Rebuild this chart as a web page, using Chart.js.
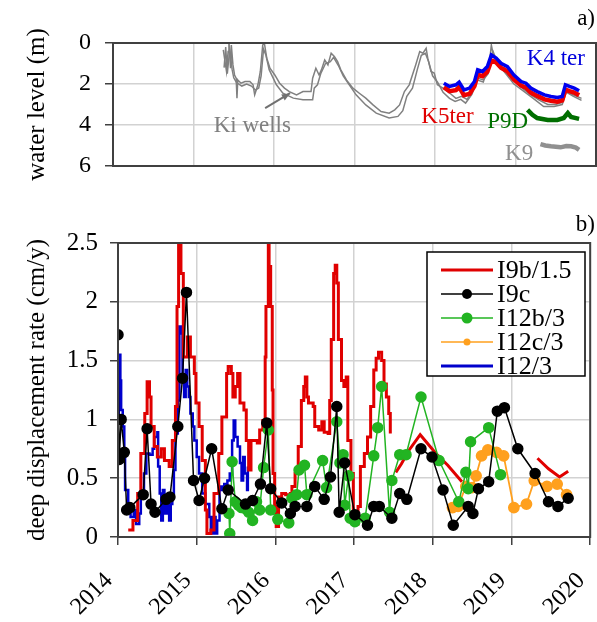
<!DOCTYPE html>
<html>
<head>
<meta charset="utf-8">
<script src="https://cdn.jsdelivr.net/npm/chart.js@4"></script>
<style>
  body { margin: 0; background: #fff; }
  #top { position: absolute; left: 0; top: 0; width: 597px; height: 200px; }
  #bot { position: absolute; left: 0; top: 200px; width: 597px; height: 422px; }
</style>
</head>
<body>
<div id="top"><canvas id="wl"></canvas></div>
<div id="bot"><canvas id="dd"></canvas></div>
<script>
// ---- panel a) water level (m), [year, depth] ----
const kiWellA = [[2015.37,0.34],[2015.41,1.39],[2015.43,0.42],[2015.44,0.0],[2015.46,1.23],[2015.47,0.1],[2015.49,1.07],[2015.51,1.56],[2015.53,1.72],[2015.54,2.69],[2015.55,1.80],[2015.59,1.96],[2015.64,1.88],[2015.70,1.88],[2015.74,2.04],[2015.76,2.53],[2015.80,2.04],[2015.83,1.39],[2015.86,0.10],[2015.88,0.0],[2015.91,0.74],[2015.95,1.23],[2016.01,1.56],[2016.07,1.96],[2016.13,2.20],[2016.19,2.37],[2016.28,2.53],[2016.36,2.37],[2016.46,2.37],[2016.48,1.72],[2016.52,1.23],[2016.56,1.56],[2016.59,1.30],[2016.63,0.83],[2016.67,1.07],[2016.71,0.50],[2016.75,0.66],[2016.79,0.91],[2016.83,1.31],[2016.90,1.80],[2016.98,2.20],[2017.06,2.45],[2017.14,2.69],[2017.23,3.02],[2017.33,3.34],[2017.43,3.42],[2017.50,3.26],[2017.56,3.02],[2017.62,2.37],[2017.68,2.04],[2017.76,1.07],[2017.81,0.42],[2017.85,0.5],[2017.89,0.26],[2017.91,0.74],[2017.95,1.39],[2017.99,1.47],[2018.03,2.04],[2018.10,2.2],[2018.20,2.5],[2018.26,2.7],[2018.33,2.6],[2018.40,2.75],[2018.47,2.3],[2018.52,1.7],[2018.60,1.8],[2018.66,1.5],[2018.70,0.1],[2018.73,0.7],[2018.80,1.2],[2018.90,1.5],[2019.00,1.9],[2019.10,2.25],[2019.20,2.55],[2019.30,2.8],[2019.40,3.0],[2019.50,3.0],[2019.58,2.9],[2019.62,2.3],[2019.70,2.5],[2019.82,2.7]];
const kiWellB = [[2015.38,1.2],[2015.40,0.2],[2015.42,1.5],[2015.45,0.3],[2015.48,1.3],[2015.50,1.7],[2015.53,1.9],[2015.56,2.0],[2015.60,2.1],[2015.66,2.0],[2015.72,2.1],[2015.77,2.3],[2015.81,2.2],[2015.84,1.6],[2015.87,0.3],[2015.90,0.6],[2015.94,1.3],[2016.03,2.04],[2016.11,2.45],[2016.24,2.69],[2016.36,2.77],[2016.48,2.77],[2016.50,2.2],[2016.54,2.04],[2016.58,1.5],[2016.64,1.0],[2016.70,0.91],[2016.74,0.7],[2016.80,1.1],[2016.86,1.6],[2016.92,1.96],[2017.02,2.53],[2017.14,3.02],[2017.27,3.42],[2017.43,3.66],[2017.54,3.58],[2017.60,3.3],[2017.65,2.6],[2017.72,2.2],[2017.78,1.3],[2017.83,0.6],[2017.88,0.5],[2017.92,0.9],[2017.97,1.6],[2018.03,1.9],[2018.10,2.4],[2018.18,2.7],[2018.25,2.85],[2018.32,2.75],[2018.38,2.93],[2018.46,2.5],[2018.52,1.8],[2018.60,1.9],[2018.68,0.9],[2018.72,0.4],[2018.78,1.0],[2018.88,1.5],[2018.98,2.0],[2019.10,2.35],[2019.22,2.7],[2019.35,3.1],[2019.48,3.1],[2019.58,3.0],[2019.63,2.4],[2019.72,2.6],[2019.82,2.8]];
const k4ter = [[2018.11,1.96],[2018.18,2.12],[2018.26,2.04],[2018.30,1.91],[2018.36,2.29],[2018.43,2.20],[2018.49,1.88],[2018.53,1.31],[2018.59,1.39],[2018.65,1.15],[2018.70,0.58],[2018.76,0.74],[2018.82,0.99],[2018.90,1.15],[2018.98,1.56],[2019.07,1.88],[2019.13,1.96],[2019.19,2.20],[2019.27,2.37],[2019.36,2.53],[2019.44,2.61],[2019.52,2.66],[2019.58,2.61],[2019.62,2.04],[2019.67,2.12],[2019.73,2.20],[2019.79,2.33]];
const k5ter = [[2018.11,2.15],[2018.18,2.35],[2018.26,2.30],[2018.30,2.15],[2018.36,2.55],[2018.43,2.48],[2018.49,2.10],[2018.53,1.55],[2018.59,1.62],[2018.65,1.40],[2018.70,0.85],[2018.76,0.95],[2018.82,1.20],[2018.90,1.38],[2018.98,1.78],[2019.07,2.08],[2019.13,2.18],[2019.19,2.42],[2019.27,2.58],[2019.36,2.75],[2019.44,2.82],[2019.52,2.86],[2019.58,2.80],[2019.62,2.28],[2019.67,2.35],[2019.73,2.42],[2019.79,2.55]];
const p9d = [[2019.15,3.26],[2019.21,3.50],[2019.27,3.66],[2019.40,3.75],[2019.52,3.75],[2019.60,3.66],[2019.65,3.42],[2019.69,3.61],[2019.79,3.70]];
const k9 = [[2019.31,4.93],[2019.37,5.0],[2019.44,5.04],[2019.56,5.09],[2019.63,5.03],[2019.69,5.04],[2019.75,5.10],[2019.79,5.21]];

// ---- panel b) deep displacement rate (cm/y), [year, rate] ----
const i9b = [[2014.13,0.06],[2014.19,0.14],[2014.25,0.37],[2014.29,0.71],[2014.34,1.05],[2014.37,1.32],[2014.40,1.19],[2014.42,0.94],[2014.46,0.77],[2014.50,0.68],[2014.55,0.75],[2014.59,0.65],[2014.65,0.60],[2014.69,0.82],[2014.73,1.11],[2014.75,1.96],[2014.77,2.55],[2014.80,2.24],[2014.83,1.53],[2014.88,1.70],[2014.92,1.53],[2014.97,1.39],[2014.99,1.14],[2015.03,0.94],[2015.07,0.65],[2015.11,0.23],[2015.13,0.03],[2015.18,0.06],[2015.22,0.37],[2015.28,0.71],[2015.32,1.02],[2015.38,1.39],[2015.40,1.45],[2015.44,1.39],[2015.46,1.19],[2015.49,1.28],[2015.52,1.39],[2015.55,1.14],[2015.60,1.08],[2015.63,0.82],[2015.66,0.57],[2015.69,0.82],[2015.77,0.80],[2015.80,0.91],[2015.84,0.99],[2015.87,1.53],[2015.88,1.96],[2015.91,2.55],[2015.92,2.30],[2015.94,1.96],[2015.96,1.25],[2015.97,0.54],[2015.99,0.26],[2016.01,0.09],[2016.04,0.34],[2016.08,0.37],[2016.13,0.36],[2016.19,0.37],[2016.21,0.43],[2016.25,0.54],[2016.29,0.77],[2016.33,1.16],[2016.36,1.28],[2016.38,1.36],[2016.40,1.19],[2016.42,1.14],[2016.48,1.11],[2016.50,0.94],[2016.55,0.91],[2016.59,0.98],[2016.62,0.89],[2016.67,0.88],[2016.69,1.16],[2016.71,1.68],[2016.74,2.24],[2016.76,2.31],[2016.78,2.16],[2016.80,1.68],[2016.84,1.33],[2016.87,1.28],[2016.90,1.36],[2016.92,0.82],[2016.96,0.54],[2016.99,0.20],[2017.01,0.11],[2017.05,0.26],[2017.08,0.60],[2017.13,0.71],[2017.17,0.85],[2017.21,1.11],[2017.25,1.42],[2017.28,1.52],[2017.31,1.57],[2017.35,1.50],[2017.38,1.30],[2017.41,1.19],[2017.44,1.05],[2017.46,0.88]];
const i9bLate = [[2017.53,0.55],[2017.60,0.62],[2017.70,0.74],[2017.84,0.87],[2018.04,0.71],[2018.19,0.61],[2018.37,0.47],[2018.38,null],[2019.33,0.67],[2019.47,0.58],[2019.61,0.51],[2019.72,0.56]];
const i9c = [[2014.00,1.72],[2014.015,0.66],[2014.04,1.00],[2014.08,0.72],[2014.11,0.23],[2014.15,0.25],[2014.32,0.36],[2014.37,0.92],[2014.42,0.28],[2014.47,0.21],[2014.61,0.32],[2014.66,0.34],[2014.76,0.94],[2014.82,1.35],[2014.87,2.08],[2014.96,0.48],[2015.03,0.31],[2015.10,0.50],[2015.19,0.75],[2015.32,0.24],[2015.40,0.40],[2015.62,0.28],[2015.71,0.31],[2015.81,0.45],[2015.89,0.97],[2015.94,0.41],[2016.08,0.29],[2016.19,0.20],[2016.25,0.26],[2016.40,0.26],[2016.50,0.43],[2016.62,0.32],[2016.70,0.51],[2016.78,1.11],[2016.81,0.21],[2016.88,0.63],[2017.01,0.19],[2017.17,0.10],[2017.25,0.26],[2017.32,0.26],[2017.48,0.16],[2017.58,0.37],[2017.67,0.32],[2017.85,0.75],[2017.99,0.68],[2018.13,0.40],[2018.26,0.10],[2018.45,0.26],[2018.51,0.20],[2018.58,0.41],[2018.71,0.47],[2018.82,1.07],[2018.91,1.10],[2019.08,0.75],[2019.30,0.54],[2019.47,0.30],[2019.59,0.26],[2019.72,0.33]];
const i12b = [[2015.41,0.20],[2015.42,0.03],[2015.45,0.64],[2015.49,0.30],[2015.53,0.27],[2015.57,0.25],[2015.62,0.24],[2015.66,0.21],[2015.71,0.14],[2015.76,0.30],[2015.80,0.23],[2015.85,0.59],[2015.91,0.91],[2015.94,0.23],[2016.03,0.15],[2016.17,0.12],[2016.21,0.33],[2016.27,0.36],[2016.30,0.57],[2016.37,0.61],[2016.40,0.36],[2016.60,0.65],[2016.65,0.42],[2016.78,0.98],[2016.82,0.63],[2016.86,0.70],[2016.88,0.27],[2016.93,0.52],[2016.95,0.16],[2017.01,0.13],[2017.14,0.16],[2017.25,0.69],[2017.30,0.93],[2017.35,1.28],[2017.45,0.21],[2017.48,0.48],[2017.58,0.70],[2017.66,0.70],[2017.85,1.19],[2018.08,0.65],[2018.33,0.30],[2018.42,0.55],[2018.45,0.41],[2018.48,0.81],[2018.71,0.93],[2018.86,0.53]];
const i12c = [[2018.25,0.25],[2018.32,0.26],[2018.42,0.43],[2018.50,0.42],[2018.55,0.52],[2018.62,0.69],[2018.70,0.74],[2018.81,0.72],[2018.90,0.69],[2019.03,0.25],[2019.19,0.28],[2019.29,0.48],[2019.45,0.43],[2019.58,0.45],[2019.70,0.36]];
const i12 = [[2014.00,1.00],[2014.01,1.55],[2014.03,1.33],[2014.04,1.08],[2014.06,0.94],[2014.08,0.71],[2014.09,0.40],[2014.13,0.28],[2014.16,0.17],[2014.20,0.23],[2014.23,0.11],[2014.27,0.20],[2014.29,0.37],[2014.33,0.54],[2014.36,0.71],[2014.40,0.70],[2014.44,0.75],[2014.46,0.85],[2014.50,0.89],[2014.51,0.60],[2014.53,0.37],[2014.55,0.14],[2014.57,0.40],[2014.59,0.20],[2014.62,0.31],[2014.65,0.14],[2014.67,0.28],[2014.69,0.37],[2014.71,0.57],[2014.73,0.88],[2014.76,1.16],[2014.78,1.79],[2014.80,1.73],[2014.82,1.33],[2014.84,1.19],[2014.86,1.42],[2014.88,1.28],[2014.90,1.19],[2014.92,1.05],[2014.95,0.94],[2014.97,0.82],[2015.00,0.68],[2015.03,0.54],[2015.07,0.37],[2015.11,0.28],[2015.16,0.17],[2015.18,0.03],[2015.21,0.17],[2015.24,0.03],[2015.26,0.14],[2015.29,0.43],[2015.32,0.40],[2015.35,0.45],[2015.39,0.48],[2015.42,0.54],[2015.45,0.82],[2015.47,0.99],[2015.49,0.85],[2015.52,0.77],[2015.55,0.63],[2015.57,0.48],[2015.59,0.68],[2015.61,0.54],[2015.64,0.40],[2015.65,0.60]];

const years = [2014, 2015, 2016, 2017, 2018, 2019, 2020];
const legendNames = ['I9b/1.5', 'I9c', 'I12b/3', 'I12c/3', 'I12/3'];

const FONT = "'Liberation Serif', 'Times New Roman', serif";
const GRID = '#d2d2d2';
const AXIS = '#404040';

function pts(arr) { return arr.map(p => ({x: p[0], y: p[1]})); }

const framePlugin = {
  id: 'frame',
  afterDraw(chart) {
    const a = chart.chartArea, ctx = chart.ctx;
    ctx.save();
    ctx.strokeStyle = AXIS;
    ctx.lineWidth = 2;
    ctx.strokeRect(a.left, a.top, a.right - a.left, a.bottom - a.top);
    ctx.restore();
  }
};

// text labels for panel a
const waterLabels = {
  id: 'waterLabels',
  afterDraw(chart) {
    const ctx = chart.ctx, xs = chart.scales.x, ys = chart.scales.y;
    ctx.save();
    ctx.font = '23px ' + FONT;
    ctx.textBaseline = 'alphabetic';
    ctx.textAlign = 'left';
    const put = (t, c, x, y) => { ctx.fillStyle = c; ctx.fillText(t, xs.getPixelForValue(x), ys.getPixelForValue(y)); };
    put('Ki wells', '#808080', 2015.25, 4.36);
    put('K4 ter', '#0000dd', 2019.14, 1.07);
    put('K5ter', '#e00000', 2017.83, 3.91);
    put('P9D', '#007000', 2018.65, 4.15);
    put('K9', '#909090', 2018.87, 5.69);
    // arrow Ki wells
    const x0 = xs.getPixelForValue(2015.89), y0 = ys.getPixelForValue(3.18);
    const x1 = xs.getPixelForValue(2016.20), y1 = ys.getPixelForValue(2.45);
    ctx.strokeStyle = '#707070'; ctx.fillStyle = '#707070'; ctx.lineWidth = 2;
    ctx.beginPath(); ctx.moveTo(x0, y0); ctx.lineTo(x1, y1); ctx.stroke();
    const ang = Math.atan2(y1 - y0, x1 - x0);
    ctx.beginPath();
    ctx.moveTo(x1, y1);
    ctx.lineTo(x1 - 9 * Math.cos(ang - 0.4), y1 - 9 * Math.sin(ang - 0.4));
    ctx.lineTo(x1 - 9 * Math.cos(ang + 0.4), y1 - 9 * Math.sin(ang + 0.4));
    ctx.closePath(); ctx.fill();
    ctx.fillStyle = '#000';
    ctx.textAlign = 'right';
    ctx.fillText('a)', 595, 25);
    ctx.restore();
  }
};

const rateLegend = {
  id: 'rateLegend',
  afterDraw(chart) {
    const ctx = chart.ctx;
    const colors = ['#e00000', '#000000', '#22b422', '#ffa01e', '#0000cc'];
    const widths = [3, 1.5, 1.5, 1.5, 3];
    const dots = [0, 5, 5.5, 3.5, 0];
    ctx.save();
    ctx.fillStyle = '#fff';
    ctx.fillRect(427, 52, 158, 124);
    ctx.strokeStyle = '#000';
    ctx.lineWidth = 1.5;
    ctx.strokeRect(427, 52, 158, 124);
    ctx.font = '26px ' + FONT;
    ctx.textBaseline = 'middle';
    ctx.textAlign = 'left';
    legendNames.forEach((n, i) => {
      const y = 70 + i * 24;
      ctx.strokeStyle = colors[i];
      ctx.lineWidth = widths[i];
      ctx.beginPath(); ctx.moveTo(441, y); ctx.lineTo(493, y); ctx.stroke();
      if (dots[i]) {
        ctx.fillStyle = colors[i];
        ctx.beginPath(); ctx.arc(467, y, dots[i], 0, Math.PI * 2); ctx.fill();
      }
      ctx.fillStyle = '#000';
      ctx.fillText(n, 497, y + 1);
    });
    ctx.font = '23px ' + FONT;
    ctx.textAlign = 'right';
    ctx.textBaseline = 'alphabetic';
    ctx.fillText('b)', 595, 31);
    ctx.restore();
  }
};

function noSidePad(s) { s.paddingLeft = 0; s.paddingRight = 0; }

new Chart(document.getElementById('wl'), {
  type: 'line',
  data: {
    datasets: [
      {data: pts(k4ter), borderColor: '#0000ee', borderWidth: 3.5, order: 1},
      {data: pts(k5ter), borderColor: '#ee0000', borderWidth: 4.5, order: 2},
      {data: pts(p9d), borderColor: '#006e00', borderWidth: 4.5, order: 3},
      {data: pts(k9), borderColor: '#909090', borderWidth: 4.5, order: 4},
      {data: pts(kiWellA), borderColor: '#808080', borderWidth: 1.5, order: 5},
      {data: pts(kiWellB), borderColor: '#808080', borderWidth: 1.5, order: 6}
    ]
  },
  options: {
    responsive: true, maintainAspectRatio: false, animation: false, devicePixelRatio: 1,
    elements: {point: {radius: 0}, line: {tension: 0}},
    layout: {padding: {left: 20, right: 1, top: 43, bottom: 0}},
    plugins: {legend: {display: false}, tooltip: {enabled: false}},
    scales: {
      x: {
        type: 'linear', min: years[0], max: years[years.length - 1],
        border: {color: AXIS, width: 2},
        grid: {color: GRID, lineWidth: 1.5, drawTicks: false},
        ticks: {display: false},
        afterBuildTicks(s) { s.ticks = years.map(v => ({value: v})); },
        afterFit(s) { s.height = 34; noSidePad(s); }
      },
      y: {
        reverse: true, min: 0, max: 6,
        border: {color: AXIS, width: 2},
        grid: {color: GRID, lineWidth: 1.5, tickColor: AXIS, tickLength: 8},
        ticks: {stepSize: 2, color: '#000', font: {family: FONT, size: 24}, padding: 14},
        title: {display: true, text: 'water level (m)', color: '#000', font: {family: FONT, size: 25}, padding: {top: 2, bottom: 0}},
        afterFit(s) { s.width = 93; }
      }
    }
  },
  plugins: [waterLabels, framePlugin]
});

new Chart(document.getElementById('dd'), {
  type: 'line',
  data: {
    datasets: [
      {data: pts(i9c), borderColor: '#000', backgroundColor: '#000', borderWidth: 1.5, pointRadius: 5, order: 1},
      {data: pts(i12b), borderColor: '#22b422', backgroundColor: '#22b422', borderWidth: 1.5, pointRadius: 5, order: 2},
      {data: pts(i12c), borderColor: '#ffa01e', backgroundColor: '#ffa01e', borderWidth: 1.8, pointRadius: 5, order: 3},
      {data: pts(i9b), borderColor: '#e00000', borderWidth: 3, pointRadius: 0, stepped: true, order: 4},
      {data: pts(i9bLate), borderColor: '#e00000', borderWidth: 3, pointRadius: 0, spanGaps: false, order: 4},
      {data: pts(i12), borderColor: '#0000cc', borderWidth: 2.5, pointRadius: 0, stepped: true, order: 5}
    ]
  },
  options: {
    responsive: true, maintainAspectRatio: false, animation: false, devicePixelRatio: 1,
    elements: {line: {tension: 0}},
    layout: {padding: {left: 20, right: 3, top: 43, bottom: 0}},
    plugins: {legend: {display: false}, tooltip: {enabled: false}},
    scales: {
      x: {
        type: 'linear', min: years[0], max: years[years.length - 1],
        border: {color: AXIS, width: 2},
        grid: {color: GRID, lineWidth: 1.5, tickColor: AXIS, tickLength: 8},
        afterBuildTicks(s) { s.ticks = years.map(v => ({value: v})); },
        ticks: {color: '#000', font: {family: FONT, size: 24}, minRotation: 45, maxRotation: 45, padding: 22,
          labelOffset: -9, callback: v => String(v)},
        afterFit(s) { s.height = 85; noSidePad(s); }
      },
      y: {
        min: 0, max: 2.5,
        border: {color: AXIS, width: 2},
        grid: {color: GRID, lineWidth: 1.5, tickColor: AXIS, tickLength: 8},
        ticks: {stepSize: 0.5, color: '#000', font: {family: FONT, size: 25}, padding: 12, callback: v => String(v)},
        title: {display: true, text: 'deep displacement rate (cm/y)', color: '#000', font: {family: FONT, size: 25}, padding: {top: 2, bottom: 0}},
        afterFit(s) { s.width = 98; }
      }
    }
  },
  plugins: [rateLegend, framePlugin]
});
</script>
</body>
</html>
